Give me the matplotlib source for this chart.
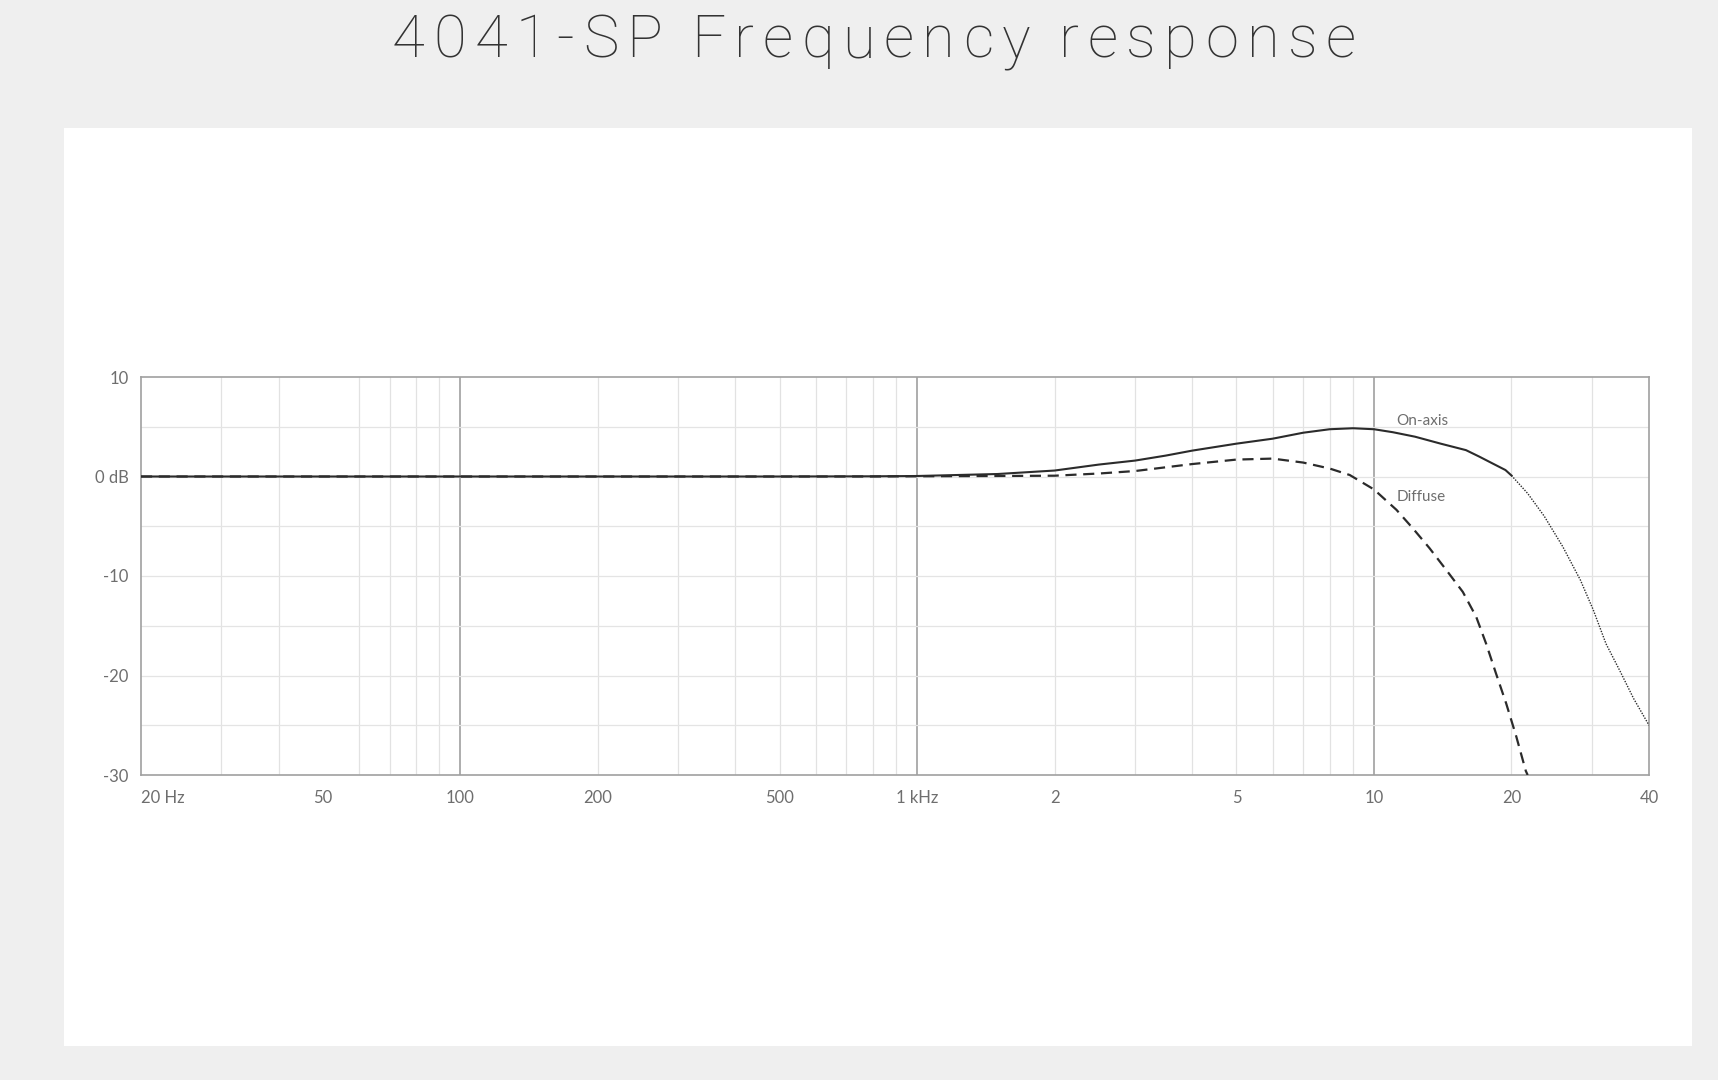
import matplotlib
matplotlib.use("Agg")
import matplotlib.pyplot as plt
from matplotlib.patches import Rectangle
from matplotlib.ticker import FixedLocator, NullFormatter

# figure is sized in pixels (dpi 100)
W, H = 1718, 1080

# curve data (frequency in Hz, level in dB)
onaxis_freq = [20, 100, 500, 800, 1000, 1500, 2000, 2500, 3000, 3500, 4000,
               5000, 6000, 7000, 8000, 9000, 10000, 11000, 12300, 14000,
               15900, 17000, 18200, 19400, 20000]
onaxis_db = [0, 0, 0, 0.02, 0.05, 0.25, 0.6, 1.2, 1.6, 2.1, 2.6,
             3.3, 3.8, 4.4, 4.75, 4.85, 4.75, 4.45, 4.0, 3.3,
             2.65, 2.0, 1.3, 0.65, 0.1]

extension_freq = [20000, 21700, 23600, 25900, 28300, 30200, 32200, 34600,
                  37000, 40000]
extension_db = [0.1, -1.7, -4.0, -7.05, -10.4, -13.4, -16.8, -19.6,
                -22.3, -25.0]

diffuse_freq = [20, 100, 500, 800, 1000, 1500, 2000, 2500, 3000, 4000, 5000,
                6000, 7000, 8000, 8850, 10000, 11200, 12160, 13230, 14400,
                15650, 16740, 17600, 18500, 19470, 20480, 21500, 21700]
diffuse_db = [0, 0, 0, 0, 0.02, 0.05, 0.08, 0.3, 0.55, 1.25, 1.7,
              1.8, 1.4, 0.8, 0.15, -1.3, -3.35, -5.2, -7.2, -9.4,
              -11.6, -14.1, -16.8, -19.8, -22.8, -26.1, -29.6, -30.0]

x_ticks = [20, 50, 100, 200, 500, 1000, 2000, 5000, 10000, 20000, 40000]
x_ticklabels = ["20 Hz", "50", "100", "200", "500", "1 kHz", "2", "5", "10", "20", "40"]
y_ticks = [10, 0, -10, -20, -30]
y_ticklabels = ["10", "0 dB", "-10", "-20", "-30"]
title = "4041-SP Frequency response"

bg = "#efefef"
line_col = "#2b2b2b"
label_col = "#6e6e6e"

plt.rcParams["font.family"] = ["Lato", "DejaVu Sans"]

fig = plt.figure(figsize=(W / 100, H / 100), dpi=100, facecolor=bg)

# white panel behind the chart
fig.patches.append(Rectangle((64 / W, 1 - 1046 / H), 1628 / W, 918 / H,
                             transform=fig.transFigure, facecolor="white",
                             edgecolor="none", zorder=-5))

ax = fig.add_axes([141 / W, 1 - 775 / H, (1649 - 141) / W, (775 - 377) / H])
ax.set_facecolor("white")
ax.set_xscale("log")
ax.set_xlim(20, 40000)
ax.set_ylim(-30, 10)

# grid: light minor lines, darker decade lines
minor_x = [30, 40, 60, 70, 80, 90, 200, 300, 400, 500, 600, 700, 800, 900,
           2000, 3000, 4000, 5000, 6000, 7000, 8000, 9000, 20000, 30000]
for f in minor_x:
    ax.axvline(f, color="#e2e2e2", lw=0.9, zorder=1)
for f in [100, 1000, 10000]:
    ax.axvline(f, color="#a0a0a0", lw=1.2, zorder=1)
for d in [-25, -20, -15, -10, -5, 0, 5]:
    ax.axhline(d, color="#e4e4e4", lw=0.9, zorder=1)

ax.plot(diffuse_freq, diffuse_db, color=line_col, lw=1.6,
        linestyle=(0, (5, 3)), zorder=3)
ax.plot(extension_freq, extension_db, color=line_col, lw=1.0,
        linestyle=(0, (1, 1.0)), zorder=3)
ax.plot(onaxis_freq, onaxis_db, color=line_col, lw=1.5, zorder=4)

ax.text(11200, 5.6, "On-axis", fontsize=11, color=label_col, va="center", ha="left")
ax.text(11200, -2.05, "Diffuse", fontsize=11, color=label_col, va="center", ha="left")

ax.set_xticks(x_ticks)
ax.set_xticklabels(x_ticklabels)
ax.xaxis.set_minor_locator(FixedLocator([]))
ax.xaxis.set_minor_formatter(NullFormatter())
ax.set_yticks(y_ticks)
ax.set_yticklabels(y_ticklabels)
ax.tick_params(axis="both", length=0, labelsize=12, labelcolor=label_col)
ax.tick_params(axis="x", pad=11)
ax.tick_params(axis="y", pad=9)
ax.get_xticklabels()[0].set_horizontalalignment("left")

for s in ax.spines.values():
    s.set_color("#a0a0a0")
    s.set_linewidth(1.2)

# title with wide letter spacing, one glyph at a time
renderer = fig.canvas.get_renderer()
glyphs = []
widths = []
for ch in title:
    t = fig.text(0, 1 - 57 / H, ch, fontsize=43, fontweight="light",
                 family=["Roboto", "Lato", "DejaVu Sans"],
                 color="#333333", ha="left", va="baseline")
    glyphs.append(t)
    if ch == " ":
        widths.append(12)
    else:
        widths.append(t.get_window_extent(renderer).width)
left, right = 392, 1356
gap = (right - left - sum(widths)) / (len(title) - 1)
x = left
for t, w in zip(glyphs, widths):
    t.set_x(x / W)
    x += w + gap

fig.savefig("out.png", dpi=100, facecolor=bg)
